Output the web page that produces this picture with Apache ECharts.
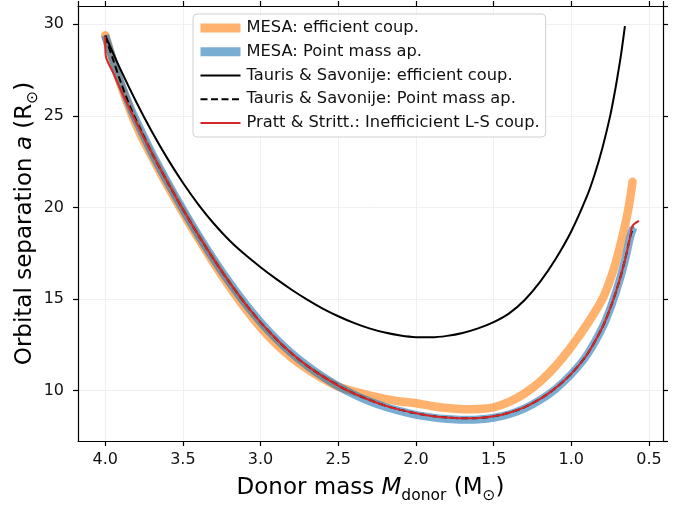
<!DOCTYPE html>
<html>
<head>
<meta charset="utf-8">
<script src="https://cdn.jsdelivr.net/npm/echarts@6/dist/echarts.min.js"></script>
<style>
  html, body { margin: 0; padding: 0; background: #fff; }
  #container { width: 691px; height: 508px; }
</style>
</head>
<body>
<div id="container"></div>
<script>
// donor mass (Msun) / orbital separation (Rsun)
const massMesaEff = [4.0, 3.95, 3.9, 3.83, 3.775, 3.7, 3.6, 3.5, 3.4, 3.3, 3.2, 3.1, 3.0, 2.9, 2.8, 2.7, 2.6, 2.5, 2.4, 2.3, 2.2, 2.1, 2.0, 1.9, 1.8, 1.7, 1.6, 1.5, 1.4, 1.3, 1.2, 1.1, 1.0, 0.9, 0.8, 0.75, 0.716, 0.68, 0.65, 0.63, 0.606];
const sepMesaEff = [29.4, 28.0, 26.7, 25.1, 24.02, 22.78, 21.2, 19.72, 18.3, 16.95, 15.68, 14.5, 13.45, 12.55, 11.8, 11.18, 10.66, 10.22, 9.96, 9.74, 9.55, 9.41, 9.31, 9.16, 9.05, 8.99, 9.0, 9.09, 9.38, 9.85, 10.5, 11.35, 12.4, 13.6, 15.0, 16.05, 16.95, 18.1, 19.2, 20.05, 21.4];

const massMesaPM = [4.0, 3.95, 3.9, 3.83, 3.775, 3.7, 3.6, 3.5, 3.4, 3.3, 3.2, 3.1, 3.0, 2.9, 2.8, 2.7, 2.6, 2.5, 2.4, 2.3, 2.2, 2.1, 2.0, 1.9, 1.8, 1.7, 1.6, 1.5, 1.4, 1.3, 1.2, 1.1, 1.0, 0.9, 0.8, 0.74, 0.69, 0.65, 0.62, 0.6];
const sepMesaPM = [29.4, 28.05, 26.8, 25.3, 24.3, 22.98, 21.4, 19.9, 18.48, 17.15, 15.91, 14.77, 13.74, 12.83, 12.04, 11.36, 10.76, 10.24, 9.79, 9.42, 9.12, 8.88, 8.68, 8.54, 8.45, 8.41, 8.43, 8.52, 8.71, 9.03, 9.49, 10.1, 10.9, 11.94, 13.44, 14.7, 16.0, 17.28, 18.42, 18.9];

const massTSEff = [4.0, 3.9, 3.8, 3.7, 3.6, 3.5, 3.4, 3.3, 3.2, 3.1, 3.0, 2.9, 2.8, 2.7, 2.6, 2.5, 2.4, 2.3, 2.2, 2.1, 2.0, 1.9, 1.8, 1.7, 1.6, 1.5, 1.4, 1.3, 1.2, 1.1, 1.0, 0.9, 0.85, 0.8, 0.75, 0.716, 0.7, 0.68, 0.655];
const sepTSEff = [29.4, 27.51, 25.76, 24.15, 22.68, 21.35, 20.16, 19.11, 18.2, 17.43, 16.74, 16.1, 15.51, 14.97, 14.48, 14.06, 13.7, 13.4, 13.17, 13.01, 12.92, 12.91, 12.99, 13.15, 13.4, 13.74, 14.22, 14.95, 15.95, 17.2, 18.7, 20.6, 21.8, 23.25, 25.0, 26.5, 27.3, 28.35, 29.9];

const massTSPM = [4.0, 3.95, 3.9, 3.83, 3.775, 3.7, 3.6, 3.5, 3.4, 3.3, 3.2, 3.1, 3.0, 2.9, 2.8, 2.7, 2.6, 2.5, 2.4, 2.3, 2.2, 2.1, 2.0, 1.9, 1.8, 1.7, 1.6, 1.5, 1.4, 1.3, 1.2, 1.1, 1.0, 0.9, 0.8, 0.74, 0.69, 0.65, 0.62, 0.6];
const sepTSPM = [29.35, 28.1, 26.85, 25.3, 24.3, 22.98, 21.4, 19.9, 18.48, 17.15, 15.91, 14.77, 13.74, 12.83, 12.04, 11.36, 10.78, 10.28, 9.85, 9.49, 9.19, 8.95, 8.76, 8.62, 8.53, 8.49, 8.51, 8.6, 8.79, 9.1, 9.55, 10.15, 10.93, 11.96, 13.46, 14.72, 16.02, 17.3, 18.44, 18.95];

const massPratt = [4.0, 3.997, 3.95, 3.9, 3.83, 3.775, 3.7, 3.6, 3.5, 3.4, 3.3, 3.2, 3.1, 3.0, 2.9, 2.8, 2.7, 2.6, 2.5, 2.4, 2.3, 2.2, 2.1, 2.0, 1.9, 1.8, 1.7, 1.6, 1.5, 1.4, 1.3, 1.2, 1.1, 1.0, 0.9, 0.8, 0.74, 0.69, 0.65, 0.62, 0.608, 0.565];
const sepPratt = [29.35, 28.32, 27.38, 26.43, 25.17, 24.22, 22.98, 21.4, 19.9, 18.48, 17.15, 15.91, 14.77, 13.74, 12.83, 12.04, 11.36, 10.78, 10.28, 9.85, 9.49, 9.19, 8.95, 8.76, 8.62, 8.53, 8.49, 8.51, 8.6, 8.79, 9.1, 9.55, 10.15, 10.93, 11.96, 13.46, 14.72, 16.02, 17.3, 18.44, 18.98, 19.27];

const seriesNames = [
  'MESA: efficient coup.',
  'MESA: Point mass ap.',
  'Tauris & Savonije: efficient coup.',
  'Tauris & Savonije: Point mass ap.',
  'Pratt & Stritt.: Inefficicient L-S coup.'
];

function pairs(xs, ys) {
  return xs.map((x, i) => [x, ys[i]]);
}

var FONT = 'DejaVu Sans';
var chart = echarts.init(document.getElementById('container'));

var nameRich = {
  t: { fontFamily: FONT, fontSize: 23, color: '#000', lineHeight: 27, verticalAlign: 'top' },
  i: { fontFamily: FONT, fontSize: 23, color: '#000', fontStyle: 'italic', lineHeight: 27, verticalAlign: 'top' },
  s: { fontFamily: FONT, fontSize: 15.5, color: '#000', lineHeight: 15, verticalAlign: 'bottom' }
};

var tickLabel = { fontFamily: FONT, fontSize: 16, color: '#111' };

function xAxisOf(pos, main) {
  return {
    type: 'value',
    position: pos,
    inverse: true,
    min: 0.41,
    max: 4.175,
    splitNumber: 8,
    name: main ? '{t|Donor mass }{i|M}{s|donor}{t| (M}{s|⊙}{t|)}' : '',
    nameLocation: 'middle',
    nameGap: 36,
    nameMoveOverlap: false,
    nameTextStyle: { rich: nameRich },
    axisLine: { show: true, onZero: false, lineStyle: { color: '#000', width: 1.2 } },
    axisTick: { show: true, length: 5, lineStyle: { color: '#000', width: 1.2 } },
    axisLabel: Object.assign({
      show: main, margin: 11, showMinLabel: false, showMaxLabel: false,
      formatter: function (v) { return v.toFixed(1); }
    }, tickLabel),
    splitLine: { show: main, lineStyle: { color: '#f0f0f0', width: 1 } }
  };
}

function yAxisOf(pos, main) {
  return {
    type: 'value',
    position: pos,
    min: 7.25,
    max: 31,
    splitNumber: 5,
    name: main ? '{t|Orbital separation }{i|a}{t| (R}{s|⊙}{t|)}' : '',
    nameLocation: 'middle',
    nameGap: 37,
    nameMoveOverlap: false,
    nameTextStyle: { rich: nameRich },
    axisLine: { show: true, onZero: false, lineStyle: { color: '#000', width: 1.2 } },
    axisTick: { show: true, length: 5, lineStyle: { color: '#000', width: 1.2 } },
    axisLabel: Object.assign({ show: main, margin: 14, showMinLabel: false, showMaxLabel: false }, tickLabel),
    splitLine: { show: main, lineStyle: { color: '#f0f0f0', width: 1 } }
  };
}

var hideDot = { opacity: 0 };

var option = {
  animation: false,
  backgroundColor: '#fff',
  grid: { left: 78, right: 28, top: 6, bottom: 67, outerBoundsMode: 'none' },
  xAxis: [xAxisOf('bottom', true), xAxisOf('top', false)],
  yAxis: [yAxisOf('left', true), yAxisOf('right', false)],
  legend: {
    orient: 'vertical',
    left: 193,
    top: 14,
    itemWidth: 40,
    itemHeight: 16,
    itemGap: 7.75,
    padding: [6, 6, 6, 3],
    backgroundColor: 'rgba(255,255,255,0.85)',
    borderColor: '#d0d0d0',
    borderWidth: 1,
    borderRadius: 4,
    textStyle: { fontFamily: FONT, fontSize: 16.3, lineHeight: 16, color: '#111', padding: [0, 0, 0, 1] },
    data: [
      { name: seriesNames[0], itemStyle: hideDot, lineStyle: { width: 9, cap: 'butt' } },
      { name: seriesNames[1], itemStyle: hideDot, lineStyle: { width: 9, cap: 'butt' } },
      { name: seriesNames[2], itemStyle: hideDot, lineStyle: { width: 2.2 } },
      { name: seriesNames[3], itemStyle: hideDot, lineStyle: { width: 2.2 } },
      { name: seriesNames[4], itemStyle: hideDot, lineStyle: { width: 2.2 } }
    ]
  },
  series: [
    {
      name: seriesNames[0], type: 'line', symbol: 'none', smooth: 0.3,
      data: pairs(massMesaEff, sepMesaEff),
      lineStyle: { color: '#ff7f0e', opacity: 0.6, width: 8.5, cap: 'round', join: 'round' },
      itemStyle: { color: '#ff7f0e' }
    },
    {
      name: seriesNames[1], type: 'line', symbol: 'none', smooth: 0.3,
      data: pairs(massMesaPM, sepMesaPM),
      lineStyle: { color: '#1f77b4', opacity: 0.6, width: 8, join: 'round' },
      itemStyle: { color: '#1f77b4' }
    },
    {
      name: seriesNames[2], type: 'line', symbol: 'none', smooth: 0.3,
      data: pairs(massTSEff, sepTSEff),
      lineStyle: { color: '#000', width: 2 },
      itemStyle: { color: '#000' }
    },
    {
      name: seriesNames[3], type: 'line', symbol: 'none', smooth: 0.3,
      data: pairs(massTSPM, sepTSPM),
      lineStyle: { color: '#000', width: 2, type: [7, 3.5] },
      itemStyle: { color: '#000' }
    },
    {
      name: seriesNames[4], type: 'line', symbol: 'none', smooth: 0.3,
      data: pairs(massPratt, sepPratt),
      lineStyle: { color: '#d62728', width: 2 },
      itemStyle: { color: '#d62728' }
    }
  ]
};

chart.setOption(option);
</script>
</body>
</html>
